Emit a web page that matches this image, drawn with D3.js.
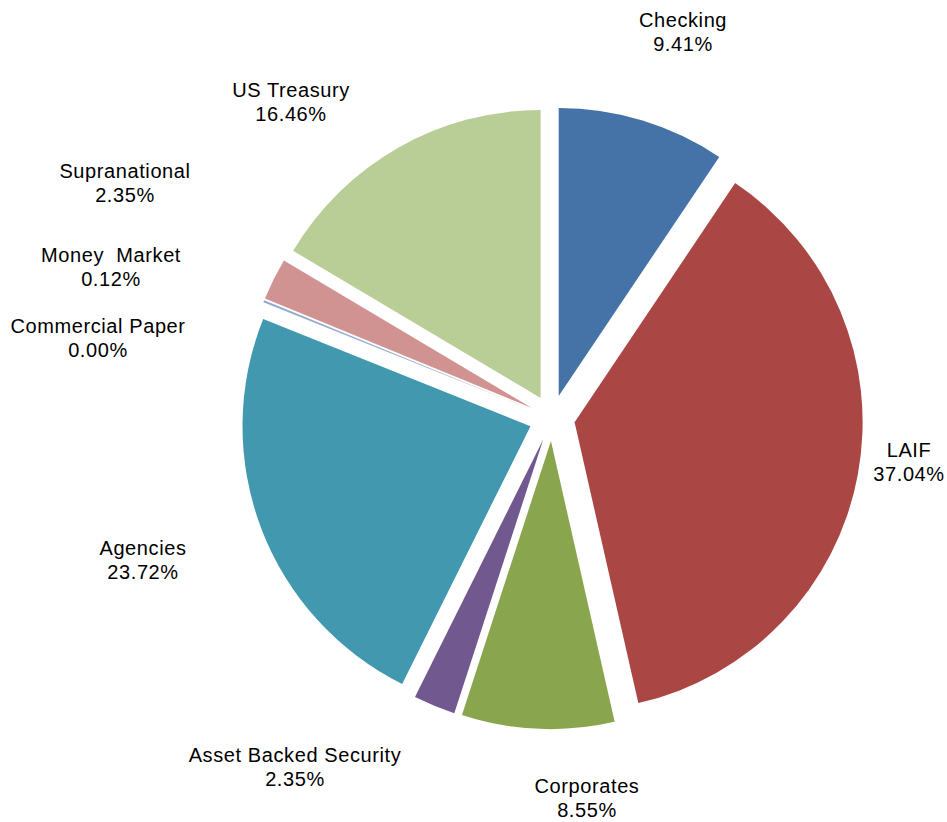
<!DOCTYPE html>
<html>
<head>
<meta charset="utf-8">
<script src="https://cdn.jsdelivr.net/npm/d3@7"></script>
<style>
    body { margin: 0; background: #fff; }
    .pie-label {
        font-family: "Liberation Sans", Arial, sans-serif;
        font-size: 20px;
        letter-spacing: 0.6px;
        fill: #000;
    }
</style>
</head>
<body>
<div class="pie_chart"></div>
<script>
// Chart data (clockwise from 12 o'clock)
const categories = ["Checking", "LAIF", "Corporates", "Asset Backed Security", "Agencies",
    "Commercial Paper", "Money  Market", "Supranational", "US Treasury"];
const percents = [9.41, 37.04, 8.55, 2.35, 23.72, 0.00, 0.12, 2.35, 16.46];
const colors = ["#4573a7", "#aa4643", "#89a54e", "#71588f", "#4198af",
    "#db843d", "#93a9cf", "#d19392", "#b9cd96"];

// Label anchor (centre x, first baseline y) - layout only
const labelPos = [
    [683, 27], [909, 457], [587, 793], [295, 762], [143, 555],
    [98, 333], [111, 262], [125, 178], [291, 97]
];

function initializeVisualization() {
    const width = 947;
    const height = 822;
    const cx = 552;
    const cy = 418;
    const radius = 288;
    const explode = 23;

    const svg = d3.select(".pie_chart")
        .append("svg")
        .attr("width", width)
        .attr("height", height);

    const chartGroup = svg.append("g")
        .attr("transform", `translate(${cx},${cy})`);

    const pieData = categories.map((c, i) => ({ key: c, value: percents[i], color: colors[i] }));

    const pie = d3.pie()
        .value(d => d.value)
        .sort(null);

    const arc = d3.arc()
        .innerRadius(0)
        .outerRadius(radius);

    const arcs = pie(pieData);

    // Exploded slices
    chartGroup.selectAll("path")
        .data(arcs)
        .enter()
        .append("path")
        .attr("d", arc)
        .attr("fill", d => d.data.color)
        .attr("transform", d => {
            const mid = (d.startAngle + d.endAngle) / 2;
            return `translate(${Math.sin(mid) * explode},${-Math.cos(mid) * explode})`;
        });

    // Labels
    arcs.forEach((d, i) => {
        const [lx, ly] = labelPos[i];
        const t = svg.append("text")
            .attr("class", "pie-label")
            .attr("text-anchor", "middle")
            .attr("x", lx)
            .attr("y", ly);
        t.append("tspan")
            .attr("x", lx)
            .attr("xml:space", "preserve")
            .style("white-space", "pre")
            .text(d.data.key);
        t.append("tspan")
            .attr("x", lx)
            .attr("dy", 24)
            .text(d.data.value.toFixed(2) + "%");
    });
}

document.addEventListener("DOMContentLoaded", initializeVisualization);
</script>
</body>
</html>
